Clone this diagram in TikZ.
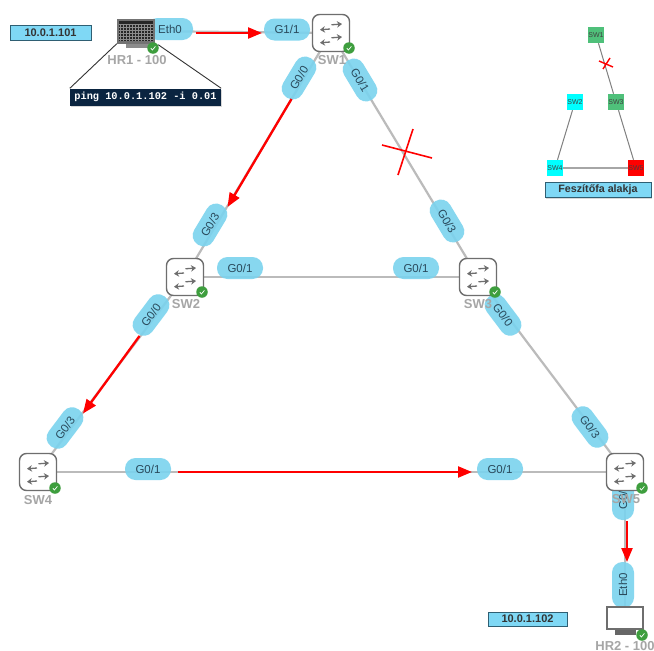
\documentclass[tikz,border=0pt]{standalone}
\usepackage{fontspec}
\setmainfont{Liberation Sans}
\setmonofont{Liberation Mono}
\usetikzlibrary{arrows.meta,shadows}
\definecolor{pillc}{HTML}{7AD3EE}
\definecolor{pillt}{HTML}{2A4A5C}
\definecolor{linkc}{HTML}{BBBBBB}
\definecolor{lblc}{HTML}{A6A6A6}
\definecolor{boxc}{HTML}{7FD8F5}
\definecolor{boxd}{HTML}{2F5F73}
\definecolor{navy}{HTML}{0A2440}
\definecolor{okc}{HTML}{3E9E3E}
\definecolor{mgreen}{HTML}{4FC07A}
\definecolor{mcyan}{HTML}{00FFFF}
\definecolor{mred}{HTML}{FF0000}
\definecolor{iconc}{HTML}{6E6E6E}
\tikzset{
  x=1pt,y=-1pt,
  pill/.style={fill=pillc,fill opacity=.9,text opacity=1,text=pillt,rounded corners=10.5pt,minimum width=46pt,minimum height=22pt,inner sep=0pt,font=\fontsize{11.5}{11.5}\selectfont},
  swbox/.style={draw=iconc,line width=1.4pt,fill=white,rounded corners=7pt,minimum size=37pt,inner sep=0pt},
  badge/.style={circle,fill=okc,minimum size=11.5pt,inner sep=0pt},
  devlbl/.style={text=lblc,font=\bfseries\fontsize{13}{13}\selectfont,inner sep=0pt},
  link/.style={draw=linkc,line width=2.2pt},
  redarrow/.style={draw=red,line width=2.3pt,-{Triangle[length=14pt,width=11pt]}},
  ipbox/.style={draw=boxd,fill=boxc,line width=.7pt,inner sep=0pt,font=\bfseries\fontsize{11}{11}\selectfont,text=black!80,drop shadow={shadow xshift=1pt,shadow yshift=-1pt,opacity=.3}},
  mini/.style={minimum size=16pt,inner sep=0pt,font=\fontsize{7}{7}\selectfont,text=black!75},
  minilink/.style={draw=gray,line width=1pt},
  redx/.style={draw=red,line width=1.6pt},
}
\newcommand{\swarrows}[1]{%
  \begin{scope}[shift={(#1)},draw=iconc,line width=1.3pt]
    \draw[-{Stealth[length=5pt,width=6.5pt]}] (-1,-4) -- (-11,-3.2);
    \draw[-{Stealth[length=5pt,width=6.5pt]}] (0.5,-8.2) -- (11,-9);
    \draw[-{Stealth[length=5pt,width=6.5pt]}] (-1,9) -- (-11,9.8);
    \draw[-{Stealth[length=5pt,width=6.5pt]}] (0.5,4.8) -- (11,4);
  \end{scope}}
\newcommand{\tick}[1]{\draw[white,line width=.7pt] ([shift={(-2.2,0.2)}]#1.center) -- ++(1.6,1.8) -- ++(3,-3.6);}
\begin{document}
\begin{tikzpicture}
\useasboundingbox (0,0) rectangle (654,651);
\fill[white] (0,0) rectangle (654,651);

% devices (positions first so connectors can refer to them)
\path
  (331,33) node[minimum size=37pt,inner sep=0pt] (sw1) {}
  (185,277) node[minimum size=37pt,inner sep=0pt] (sw2) {}
  (478,277) node[minimum size=37pt,inner sep=0pt] (sw3) {}
  (38,472) node[minimum size=37pt,inner sep=0pt] (sw4) {}
  (625,472) node[minimum size=37pt,inner sep=0pt] (sw5) {}
  (136,31) node[minimum width=38pt,minimum height=25pt,inner sep=0pt] (hr1) {}
  (625,618) node[minimum width=38pt,minimum height=24pt,inner sep=0pt] (hr2) {};

% links
\draw[link] (hr1) -- (sw1);
\draw[link] (sw1) -- (sw2);
\draw[link] (sw1) -- (sw3);
\draw[link] (sw2) -- (sw3);
\draw[link] (sw2) -- (sw4);
\draw[link] (sw3) -- (sw5);
\draw[link] (sw4) -- (sw5);
\draw[link] (sw5) -- (hr2);

% port labels
\node[pill] (p1) at (170,29) {Eth0};
\node[pill] (p2) at (287,29.5) {G1/1};
\node[pill,rotate=59] (p3) at (299,78) {G0/0};
\node[pill,rotate=-59] (p4) at (360,80) {G0/1};
\node[pill,rotate=-59] (p5) at (447,221) {G0/3};
\node[pill,rotate=59] (p6) at (210,225) {G0/3};
\node[pill] (p7) at (240,268) {G0/1};
\node[pill] (p8) at (416,268) {G0/1};
\node[pill,rotate=53] (p9) at (151,315) {G0/0};
\node[pill,rotate=53] (p10) at (65,428) {G0/3};
\node[pill,rotate=-53] (p11) at (503,315) {G0/0};
\node[pill,rotate=-53] (p12) at (590,427) {G0/3};
\node[pill] (p13) at (148,469) {G0/1};
\node[pill] (p14) at (500,469) {G0/1};
\node[pill,rotate=90] (p15) at (623,497) {G0/0};
\node[pill,rotate=90] (p16) at (623,585) {Eth0};

% switches on top of the port labels
\foreach \n/\x/\y in {sw1/331/33,sw2/185/277,sw3/478/277,sw4/38/472,sw5/625/472}{
  \node[swbox] at (\x,\y) {};
  \swarrows{\x,\y}
}
% hosts
\fill[black!55] (117,19) rectangle (155,44);
\fill[black!85] (119,21) rectangle (153,41);
\foreach \i in {0,...,10} \draw[black!45,line width=.3pt] (120+\i*3,24) -- (120+\i*3,41);
\foreach \i in {0,...,5} \draw[black!45,line width=.3pt] (119,24+\i*3) -- (153,24+\i*3);
\fill[black!45] (126,44) rectangle (150,48);
\draw[iconc,line width=2.4pt,fill=white] (607,607) rectangle (643,629);
\fill[black!60] (615,630) rectangle (636,635);

% device labels
\node[devlbl] (lsw1) at (332,60) {SW1};
\node[devlbl] (lsw2) at (186,304) {SW2};
\node[devlbl] (lsw3) at (478,304) {SW3};
\node[devlbl] (lsw4) at (38,500) {SW4};
\node[devlbl] (lsw5) at (626,499) {SW5};
\node[devlbl] (lhr1) at (137,60) {HR1 - 100};
\node[devlbl] (lhr2) at (625,646) {HR2 - 100};

% status badges
\foreach \n/\x/\y in {b1/153/48,b2/349/48,b3/202/292,b4/495/292,b5/55/488,b6/642/488,b7/642/635}{
  \node[badge] (\n) at (\x,\y) {};
  \tick{\n}
}

% callout
\node[fill=navy,text=white,minimum width=151pt,minimum height=17pt,inner sep=0pt,font=\ttfamily\bfseries\fontsize{10.3}{10.3}\selectfont,drop shadow={shadow xshift=1pt,shadow yshift=-1pt,opacity=.3}] (cmd) at (145.5,97) {ping 10.0.1.102 -i 0.01};
\draw[black!80,line width=.9pt] (hr1.south west) -- (cmd.north west);
\draw[black!80,line width=.9pt] (hr1.south east) ++(3,1) -- (cmd.north east);

% red arrows
\coordinate (a1s) at (196,33); \coordinate (a1e) at (262,33);
\coordinate (a2s) at (291.5,99); \coordinate (a2e) at (227.5,207);
\coordinate (a3s) at (139.5,336); \coordinate (a3e) at (83,413.5);
\coordinate (a4s) at (178,472); \coordinate (a4e) at (472,472);
\coordinate (a5s) at (627,521); \coordinate (a5e) at (627,562);
\foreach \k in {1,...,5} \draw[redarrow] (a\k s) -- (a\k e);

% big cross
\draw[redx] (382,145) -- (432,158);
\draw[redx] (413,129) -- (398,175);

% ip boxes
\node[ipbox,minimum width=81pt,minimum height=15pt] (ip1) at (50.5,32.5) {10.0.1.101};
\node[ipbox,minimum width=79pt,minimum height=14pt] (ip2) at (527.5,619) {10.0.1.102};

% mini tree
\path
  (596,35) node[mini,fill=mgreen] (m1) {SW1}
  (575,102) node[mini,fill=mcyan] (m2) {SW2}
  (616,102) node[mini,fill=mgreen] (m3) {SW3}
  (555,168) node[mini,fill=mcyan] (m4) {SW4}
  (636,168) node[mini,fill=mred] (m5) {SW5};
\draw[minilink] (m1) -- (m3);
\draw[minilink] (m2) -- (m4);
\draw[minilink] (m3) -- (m5);
\draw[draw=gray!70,line width=1.7pt] (m4) -- (m5);
\draw[red,line width=1.4pt] (599,61) -- (613,67);
\draw[red,line width=1.4pt] (603,69) -- (610,58);
\node[ipbox,minimum width=106pt,minimum height=15pt,font=\bfseries\fontsize{10.7}{10.7}\selectfont] (cap) at (598,190) {Feszítőfa alakja};
\end{tikzpicture}
\end{document}
